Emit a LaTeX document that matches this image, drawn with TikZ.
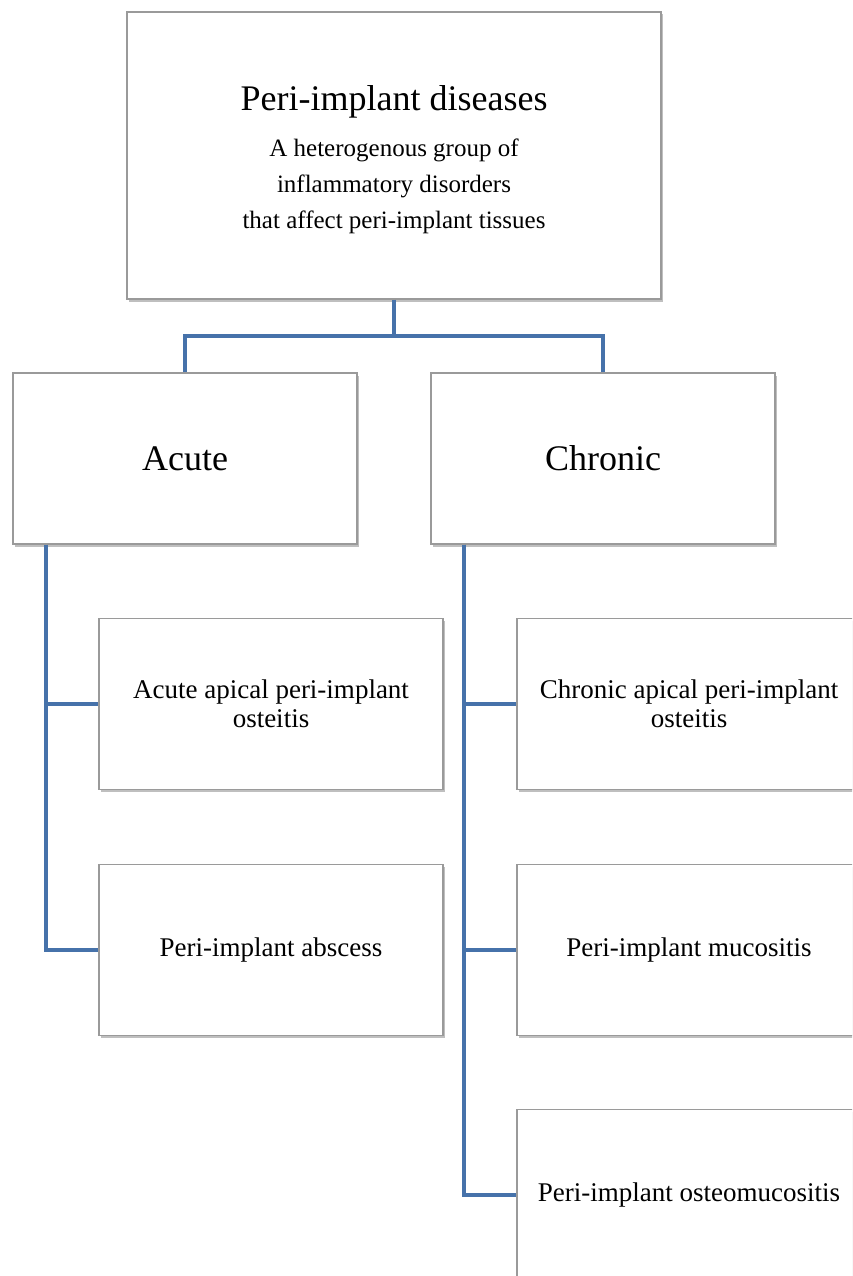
\documentclass[tikz,border=0pt]{standalone}
\usepackage{fontspec}
\setmainfont{Liberation Serif}
\usepackage{tikz}
\usetikzlibrary{positioning, shapes, shadows}

\definecolor{linkblue}{HTML}{4672AA}
\definecolor{boxgray}{HTML}{9A9A9A}

\tikzset{
    box/.style={draw=boxgray, line width=1.2pt, fill=white, align=center,
        minimum width=344, minimum height=171, inner sep=0pt,
        drop shadow={shadow xshift=1.5pt, shadow yshift=-2.5pt, fill=black, opacity=0.25},
        font=\fontsize{27}{29}\selectfont},
    link/.style={linkblue, line width=4pt}
}

\begin{document}
\begin{tikzpicture}[x=1pt, y=-1pt]
    \useasboundingbox (0,0) rectangle (852,1276);
    \clip (0,0) rectangle (852,1276);

    \node[box, minimum width=534, minimum height=287] (top) at (394,155.5) {};
    \node[align=center, inner sep=0pt, font=\fontsize{25}{36}\selectfont] (toptext) at (394,160)
        {{\fontsize{36}{42}\selectfont Peri-implant diseases}\\[10pt]
         A heterogenous group of\\ inflammatory disorders\\ that affect peri-implant tissues};

    \node[box, font=\fontsize{36}{40}\selectfont] (acute) at (185,458.5) {Acute};
    \node[box, font=\fontsize{36}{40}\selectfont] (chronic) at (603,458.5) {Chronic};

    \node[box] (acap) at (271,704) {Acute apical peri-implant\\ osteitis};
    \node[box] (abscess) at (271,950) {Peri-implant abscess};

    \node[box] (ccap) at (689,704) {Chronic apical peri-implant\\ osteitis};
    \node[box] (mucos) at (689,950) {Peri-implant mucositis};
    \node[box] (osteo) at (689,1195) {Peri-implant osteomucositis};

    \draw[link] (top.south) -- ++(0,36) coordinate (fork);
    \draw[link] (fork) -| (acute.north);
    \draw[link] (fork) -| (chronic.north);

    \draw[link] ([xshift=34]acute.south west) |- (acap.west);
    \draw[link] ([xshift=34]acute.south west) |- (abscess.west);

    \draw[link] ([xshift=34]chronic.south west) |- (ccap.west);
    \draw[link] ([xshift=34]chronic.south west) |- (mucos.west);
    \draw[link] ([xshift=34]chronic.south west) |- (osteo.west);
\end{tikzpicture}
\end{document}
